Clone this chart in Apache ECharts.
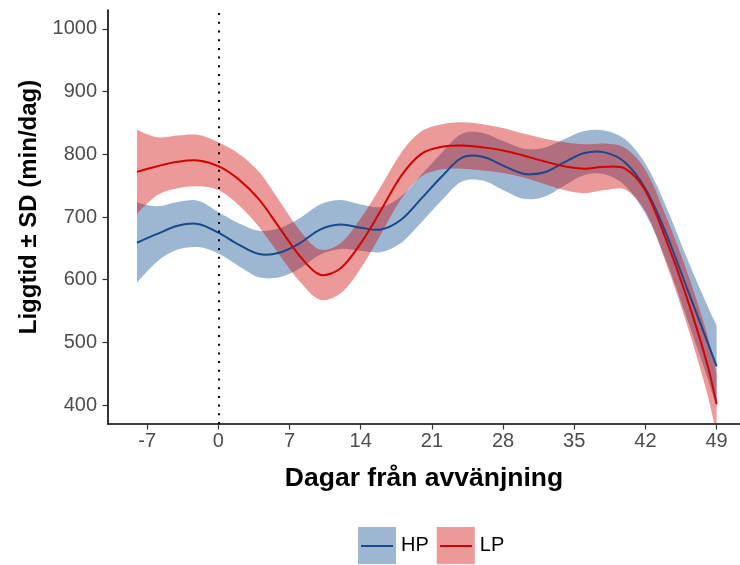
<!DOCTYPE html>
<html>
<head>
<meta charset="utf-8">
<script src="https://cdn.jsdelivr.net/npm/echarts@6/dist/echarts.min.js"></script>
<style>html,body{margin:0;padding:0;background:#fff}#c{width:740px;height:565px}</style>
</head>
<body>
<div id="c"></div>
<script>
var days   = [-8,-6,-4,-2,0,2,4,6,8,10,12,14,16,18,20,22,24,26,28,30,32,34,36,38,40,42,44,46,48,49];
var hpMean = [659,673,686,689,675,656,641,643,658,680,688,683,680,696,730,765,795,796,782,769,771,787,802,803,787,745,675,590,505,462];
var hpSd   = [64,44,38,37,33,34,37,39,40,40,39,37,36,37,38,38,38,38,39,40,39,37,35,35,37,40,43,48,57,65];
var lpMean = [772,781,788,790,781,760,728,683,638,608,618,658,711,766,801,812,814,811,806,798,789,781,777,780,777,742,665,575,470,402];
var lpSd   = [67,46,42,41,38,41,44,43,41,40,40,40,38,37,36,36,37,37,36,35,36,38,39,37,33,33,37,42,47,48];
var xTicks = [-7,0,7,14,21,28,35,42,49];
var yTicks = [400,500,600,700,800,900,1000];
var groups = ['HP','LP'];

var lineColors = {HP:'#17498c', LP:'#d40000'};
var fillColors = {HP:'rgba(10,75,142,0.4)', LP:'rgba(205,0,0,0.4)'};
var means = {HP:hpMean, LP:lpMean};
var sds = {HP:hpSd, LP:lpSd};
var SM = 0.33;
var FONT = 'Liberation Sans, Arial, sans-serif';

// bezier path through pixel points (same style of smoothing as ECharts line smooth)
function bezierPath(pts, s, start){
  var out = start ? ('M' + pts[0][0] + ',' + pts[0][1]) : ('L' + pts[0][0] + ',' + pts[0][1]);
  var n = pts.length;
  var cps = pts.map(function(p, i){
    if (i === 0 || i === n-1) return [p, p];
    var prev = pts[i-1], next = pts[i+1];
    var vx = next[0]-prev[0], vy = next[1]-prev[1];
    var d0 = Math.hypot(p[0]-prev[0], p[1]-prev[1]);
    var d1 = Math.hypot(next[0]-p[0], next[1]-p[1]);
    var sum = d0 + d1 || 1;
    return [[p[0]-vx*s*d0/sum, p[1]-vy*s*d0/sum], [p[0]+vx*s*d1/sum, p[1]+vy*s*d1/sum]];
  });
  for (var i = 1; i < n; i++){
    var c1 = cps[i-1][1], c2 = cps[i][0], p = pts[i];
    out += 'C' + c1[0] + ',' + c1[1] + ' ' + c2[0] + ',' + c2[1] + ' ' + p[0] + ',' + p[1];
  }
  return out;
}

function ribbonSeries(g){
  return {
    name: g, type:'custom', clip:true, silent:true, z:2,
    data: days.map(function(d,i){ return [d, means[g][i] - sds[g][i], means[g][i] + sds[g][i]]; }),
    encode:{x:0, y:[1,2]},
    itemStyle:{color: fillColors[g]},
    renderItem: function(params, api){
      if (params.dataIndex !== 0) return null;
      var up = days.map(function(d,i){ return api.coord([d, means[g][i] + sds[g][i]]); });
      var lo = days.map(function(d,i){ return api.coord([d, means[g][i] - sds[g][i]]); }).reverse();
      var path = bezierPath(up, SM, true) + bezierPath(lo, SM, false) + 'Z';
      return {type:'path', shape:{pathData:path}, style:{fill: fillColors[g], stroke:'none'}};
    }
  };
}

function meanSeries(g){
  return {
    name: g + ' mean', type:'custom', clip:true, silent:true, z:3,
    data: days.map(function(d,i){ return [d, means[g][i]]; }),
    encode:{x:0, y:1},
    itemStyle:{color: lineColors[g]},
    renderItem: function(params, api){
      if (params.dataIndex !== 0) return null;
      var pts = days.map(function(d,i){ return api.coord([d, means[g][i]]); });
      return {type:'path', shape:{pathData:bezierPath(pts, SM, true)},
        style:{fill:'none', stroke: lineColors[g], lineWidth:2}};
    }
  };
}

var series = [];
groups.forEach(function(g){
  series.push(ribbonSeries(g));
  series.push(meanSeries(g));
});
series.push({name:'ref', type:'line', data:[], z:5,
  markLine:{silent:true, symbol:['none','none'], label:{show:false},
    lineStyle:{color:'#000', width:2, type:[2,6.7]}, data:[{xAxis:0}]}});

var chart = echarts.init(document.getElementById('c'), null, {renderer:'canvas'});
chart.setOption({
  animation:false,
  backgroundColor:'#fff',
  grid:{left:108, top:10, width:632, height:414, containLabel:false},
  xAxis:{type:'value', min:-10.85, max:51.3,
    name:'Dagar från avvänjning', nameLocation:'middle', nameGap:41,
    nameTextStyle:{fontFamily:FONT, fontWeight:'bold', fontSize:26.5, color:'#000'},
    axisLine:{onZero:false, lineStyle:{color:'#000', width:1.6}},
    axisTick:{show:true, length:5.5, lineStyle:{color:'#333', width:1.2}, customValues:xTicks},
    axisLabel:{customValues:xTicks, margin:7, fontFamily:FONT, fontSize:20, color:'#4d4d4d'},
    splitLine:{show:false}},
  yAxis:{type:'value', min:370, max:1030,
    name:'Liggtid ± SD (min/dag)', nameLocation:'middle', nameGap:65,
    nameTextStyle:{fontFamily:FONT, fontWeight:'bold', fontSize:24, color:'#000', padding:[0,0,0,20]},
    axisLine:{show:true, onZero:false, lineStyle:{color:'#000', width:1.6}},
    axisTick:{show:true, length:5.5, lineStyle:{color:'#333', width:1.2}, customValues:yTicks},
    axisLabel:{customValues:yTicks, margin:11, fontFamily:FONT, fontSize:20, color:'#4d4d4d',
      formatter:function(v){ return String(v); }},
    splitLine:{show:false}},
  legend:{show:true, left:358, top:527, itemWidth:38, itemHeight:37, itemGap:8, icon:'rect', padding:0,
    selectedMode:false,
    textStyle:{fontFamily:FONT, fontSize:20, color:'#000'},
    data:[{name:'HP', itemStyle:{color:fillColors.HP}}, {name:'LP', itemStyle:{color:fillColors.LP}}]},
  graphic:[
    {type:'line', shape:{x1:361, y1:546, x2:393, y2:546}, style:{stroke:lineColors.HP, lineWidth:2}, z:100},
    {type:'line', shape:{x1:440, y1:546, x2:472, y2:546}, style:{stroke:lineColors.LP, lineWidth:2}, z:100}
  ],
  series:series
});
</script>
</body>
</html>
